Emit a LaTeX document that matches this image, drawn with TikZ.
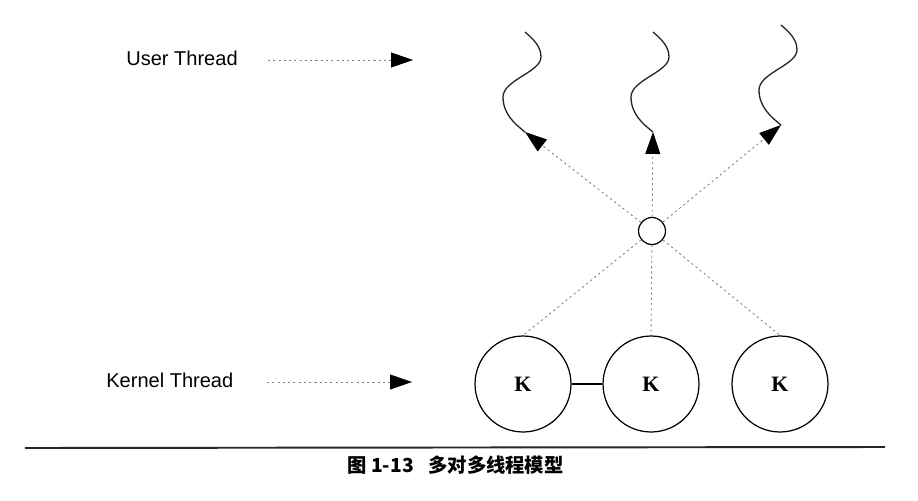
\documentclass[tikz,border=0pt]{standalone}
\usepackage{fontspec}
\setmainfont{Liberation Sans}
\newfontfamily\kfont{Liberation Serif}
\newfontfamily\cjk{Noto Sans CJK SC}
\usetikzlibrary{arrows.meta, positioning}

\begin{document}
\begin{tikzpicture}[
    x=0.02cm, y=-0.02cm,
    >={Triangle[length=12.5pt, width=8.5pt, color=black]},
    kthread/.style={draw, circle, line width=0.7pt, minimum size=1.92cm, inner sep=0pt,
                    font=\fontsize{12.5}{12}\selectfont\kfont\bfseries},
    hub/.style={draw, circle, line width=0.7pt, minimum size=0.54cm, inner sep=0pt},
    dots/.style={gray, line width=0.5pt, dash pattern=on 1.2pt off 1.8pt},
    wave/.style={line width=0.75pt, black!85},
    tag/.style={font=\fontsize{11.4}{12}\selectfont, anchor=west, inner sep=0pt},
    capt/.style={font=\fontsize{11}{12}\selectfont\cjk\bfseries, anchor=west, inner sep=0pt}
]
\useasboundingbox (0,0) rectangle (918,500);

% --- Labels on the left ---
\node[tag] (utag) at (126,58) {User Thread};
\node[tag] (ktag) at (106,380) {Kernel Thread};
\coordinate (ua) at (268,60);
\coordinate (ub) at (413,60);
\coordinate (ka) at (267,382);
\coordinate (kb) at (412,382);
\draw[dots, ->] (ua) -- (ub);
\draw[dots, ->] (ka) -- (kb);

% --- User threads (wavy lines) ---
\foreach \i/\x/\y in {1/525/32, 2/653/32, 3/781/25} {
  \begin{scope}[shift={(\x,\y)}]
    \draw[wave] (0,0) .. controls (8,7) and (16,14) .. (16,25)
                      .. controls (16,40) and (-22,48) .. (-22,65)
                      .. controls (-22,82) and (-10,92) .. (0,100);
    \coordinate (u\i) at (0,100);
  \end{scope}
}

% --- Mapping circle ---
\node[hub] (m) at (652,231) {};

% --- Kernel threads ---
\node[kthread] (k1) at (523,384) {K};
\node[kthread] (k2) at (651,384) {K};
\node[kthread] (k3) at (780,384) {K};

% --- Connections ---
\draw[dots, ->] (m) -- (u1);
\draw[dots, ->] (m) -- (u2);
\draw[dots, ->] (m) -- (u3);
\draw[dots] (m) -- (k1.north);
\draw[dots] (m) -- (k2.north);
\draw[dots] (m) -- (k3.north);
\draw[line width=0.6pt] (k1) -- (k2);

% --- Rule and caption ---
\coordinate (r1) at (25,448);
\coordinate (r2) at (885,447);
\draw[line width=1.1pt, black!85] (r1) -- (r2);
\node[capt] (capnum) at (347,465) {图 1-13};
\node[capt] (captxt) at (428,465) {多对多线程模型};

\end{tikzpicture}
\end{document}
